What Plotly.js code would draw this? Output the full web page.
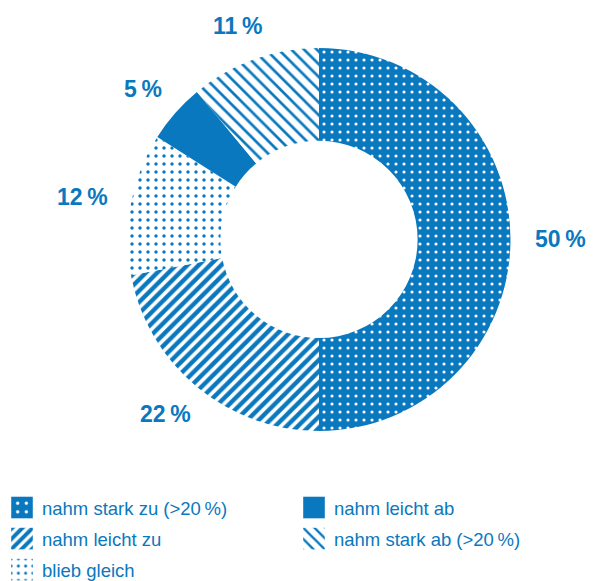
<!DOCTYPE html>
<html>
<head>
<meta charset="utf-8">
<script src="https://cdn.plot.ly/plotly-3.0.1.min.js"></script>
<style>html,body{margin:0;padding:0;background:#fff;}#chart{width:612px;height:581px;}</style>
</head>
<body>
<div id="chart"></div>
<script>
// ---- data ----
const categories = ['nahm stark zu (>20\u2009%)', 'nahm leicht zu', 'blieb gleich', 'nahm leicht ab', 'nahm stark ab (>20\u2009%)'];
const shares = [50, 22, 12, 5, 11];
const shareLabels = ['50\u2009%', '22\u2009%', '12\u2009%', '5\u2009%', '11\u2009%'];
const legendColumn = ['legend', 'legend', 'legend', 'legend2', 'legend2'];

// ---- style ----
const BLUE = '#0a78be';
const W = 612, H = 581;
const pieDomX = [0.2083, 0.8342];
const pieDomY = [0.2582, 0.9174];
const patShape = ['.', '/', '.', '', '\\'];
const patBg = [BLUE, '#ffffff', '#ffffff', BLUE, '#ffffff'];
const patFg = ['#ffffff', BLUE, BLUE, BLUE, BLUE];
const patSize = [8, 8, 8, 8, 9];
const patSolidity = [0.12, 0.55, 0.14, 1, 0.3];
const legendPatSize = [6, 5, 5, 5, 5.5];
const SWATCH_SCALE = 1.8;

const pie = {
  type: 'pie',
  labels: categories,
  values: shares,
  sort: false,
  direction: 'clockwise',
  rotation: 0,
  hole: 0.515,
  textinfo: 'none',
  hoverinfo: 'label+percent',
  showlegend: false,
  domain: {x: pieDomX, y: pieDomY},
  marker: {
    colors: categories.map(() => BLUE),
    line: {width: 0},
    pattern: {shape: patShape, bgcolor: patBg, fgcolor: patFg, size: patSize, solidity: patSolidity, fillmode: 'replace'}
  }
};

// legend entries (empty bar traces carrying the same fills)
const legendTraces = categories.map((c, i) => ({
  type: 'bar', x: [null], y: [null], name: c, legend: legendColumn[i],
  legendgroup: 'g' + i, showlegend: true, hoverinfo: 'skip',
  marker: {color: BLUE, line: {width: 0},
    pattern: {shape: patShape[i], bgcolor: patBg[i], fgcolor: patFg[i], size: legendPatSize[i],
      solidity: patSolidity[i], fillmode: 'replace'}}
}));

// percentage labels placed around the ring from the cumulative shares
const total = shares.reduce((a, b) => a + b, 0);
const cxPx = (pieDomX[0] + pieDomX[1]) / 2 * W;
const cyPx = (1 - (pieDomY[0] + pieDomY[1]) / 2) * H;
const R0 = 216, hh = 11;
let cum = 0;
const annotations = shares.map((v, i) => {
  const mid = (cum + v / 2) / total; cum += v;
  const th = 2 * Math.PI * mid;
  const s = Math.sin(th), c = Math.cos(th);
  const hw = 6.3 * shareLabels[i].length;
  const px = cxPx + R0 * s + hw * s;
  const py = cyPx - R0 * c - hh * c;
  return {x: px / W, y: 1 - py / H, xref: 'paper', yref: 'paper', text: shareLabels[i], showarrow: false,
    xanchor: 'center', yanchor: 'middle',
    font: {family: 'Liberation Sans, Arial, sans-serif', size: 23, color: BLUE, weight: 'bold'}};
});

const legendFont = {family: 'Liberation Sans, Arial, sans-serif', size: 18.5, color: BLUE};
const layout = {
  width: W, height: H,
  margin: {l: 0, r: 0, t: 0, b: 0, autoexpand: false},
  paper_bgcolor: '#ffffff', plot_bgcolor: 'rgba(0,0,0,0)',
  xaxis: {visible: false, fixedrange: true},
  yaxis: {visible: false, fixedrange: true},
  showlegend: true,
  legend: {x: 2 / W, xanchor: 'left', y: 1 - 489 / H, yanchor: 'top', orientation: 'v', font: legendFont,
    traceorder: 'grouped', tracegroupgap: 4, bgcolor: 'rgba(0,0,0,0)', itemclick: false},
  legend2: {x: 294 / W, xanchor: 'left', y: 1 - 489 / H, yanchor: 'top', orientation: 'v', font: legendFont,
    traceorder: 'grouped', tracegroupgap: 4, bgcolor: 'rgba(0,0,0,0)', itemclick: false},
  annotations: annotations
};

Plotly.newPlot('chart', [pie].concat(legendTraces), layout, {displayModeBar: false, staticPlot: true}).then(gd => {
  // enlarge the legend swatches about their own centres
  gd.querySelectorAll('.legendpoints').forEach(g => {
    const b = g.getBBox();
    const cx = b.x + b.width / 2, cy = b.y + b.height / 2;
    const t = g.getAttribute('transform') || '';
    g.setAttribute('transform', t + ` translate(${cx},${cy}) scale(${SWATCH_SCALE}) translate(${-cx},${-cy})`);
  });
});
</script>
</body>
</html>
